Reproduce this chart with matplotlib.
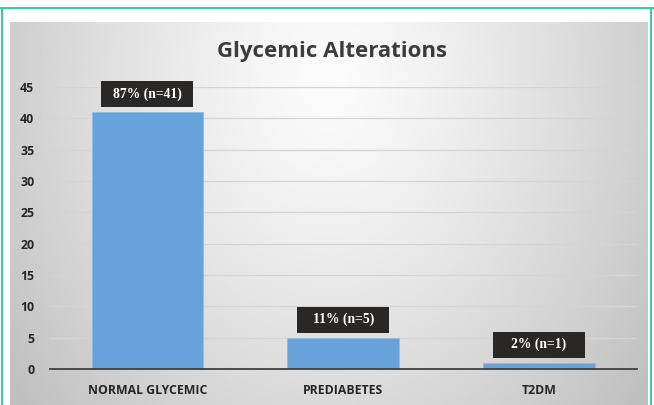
import numpy as np
import matplotlib
matplotlib.use("Agg")
import matplotlib.pyplot as plt
from matplotlib.patches import Rectangle

categories = ["NORMAL GLYCEMIC", "PREDIABETES", "T2DM"]
values = [41, 5, 1]
labels = ["87% (n=41)", "11% (n=5)", "2% (n=1)"]
yticks = [0, 5, 10, 15, 20, 25, 30, 35, 40, 45]

W, H = 654, 405
fig = plt.figure(figsize=(W / 100, H / 100), dpi=100)
fig.patch.set_facecolor("white")

# background gradient panel
bg = fig.add_axes([10 / W, 0, (648 - 10) / W, (405 - 22) / H])
yy, xx = np.mgrid[0:1:200j, 0:1:300j]
r = np.sqrt(((xx - 0.5) / 0.62) ** 2 + ((yy - 0.15) / 1.3) ** 2)
shade = np.clip(0.985 - 0.23 * r ** 1.3, 0.75, 0.985)
bg.imshow(shade, cmap="gray", vmin=0, vmax=1, aspect="auto", extent=[0, 1, 0, 1],
          origin="upper", interpolation="bilinear")
bg.set_axis_off()

# teal border
border = fig.add_axes([0, 0, 1, 1], facecolor="none")
border.set_xlim(0, W)
border.set_ylim(H, 0)
border.plot([0, W], [8, 8], color="#3cc8b0", lw=1.5)
border.plot([2, 2], [8, H], color="#3cc8b0", lw=1.5)
border.plot([651, 651], [8, H], color="#3cc8b0", lw=1.5)
border.set_axis_off()

AX_L, AX_R, AX_T, AX_B = 49.5, 637, 87, 369
ax = fig.add_axes([AX_L / W, (H - AX_B) / H, (AX_R - AX_L) / W, (AX_B - AX_T) / H])
ax.set_facecolor("none")
x = np.arange(len(categories))
ax.bar(x, values, width=0.57, color="#67a2da", edgecolor="#8dbbe6", linewidth=0.6, zorder=3)
ax.set_xlim(-0.5, len(categories) - 0.5)
ax.set_ylim(0, 45)
ax.set_yticks(yticks)
ax.set_xticks(x)
ax.set_xticklabels(categories)
for s in ["top", "right", "left"]:
    ax.spines[s].set_visible(False)
ax.spines["bottom"].set_color("#404040")
ax.spines["bottom"].set_linewidth(1.3)
ax.spines["bottom"].set_zorder(4)
ax.tick_params(length=0)
ax.yaxis.grid(True, color="#d4d4d4", lw=0.9, zorder=0)
ax.set_axisbelow(True)
for t in ax.get_yticklabels() + ax.get_xticklabels():
    t.set_fontfamily("Open Sans")
    t.set_fontweight("bold")
    t.set_fontsize(8.8)
    t.set_color("#262626")
ax.tick_params(axis="y", pad=11)
ax.tick_params(axis="x", pad=11)

# fixed-size label boxes (in pixels), positioned above each bar
px_x = (AX_R - AX_L) / len(categories)
px_y = (AX_B - AX_T) / 45
box_w, box_h, lift = 92 / px_x, 26 / px_y, 18 / px_y
for xi, v, lab in zip(x, values, labels):
    cy = v + lift
    ax.add_patch(Rectangle((xi - box_w / 2, cy - box_h / 2), box_w, box_h,
                           fc="#2a2826", ec="none", zorder=5, clip_on=False))
    ax.text(xi, cy, lab, ha="center", va="center", color="white", fontsize=9.8,
            fontfamily="Liberation Serif", fontweight="bold", zorder=6)

fig.text(332 / W, 1 - 51 / H, "Glycemic Alterations", ha="center", va="center",
         fontsize=16, fontweight="bold", fontfamily="Open Sans", color="#3c3c3c")

fig.savefig("out.png", dpi=100)
